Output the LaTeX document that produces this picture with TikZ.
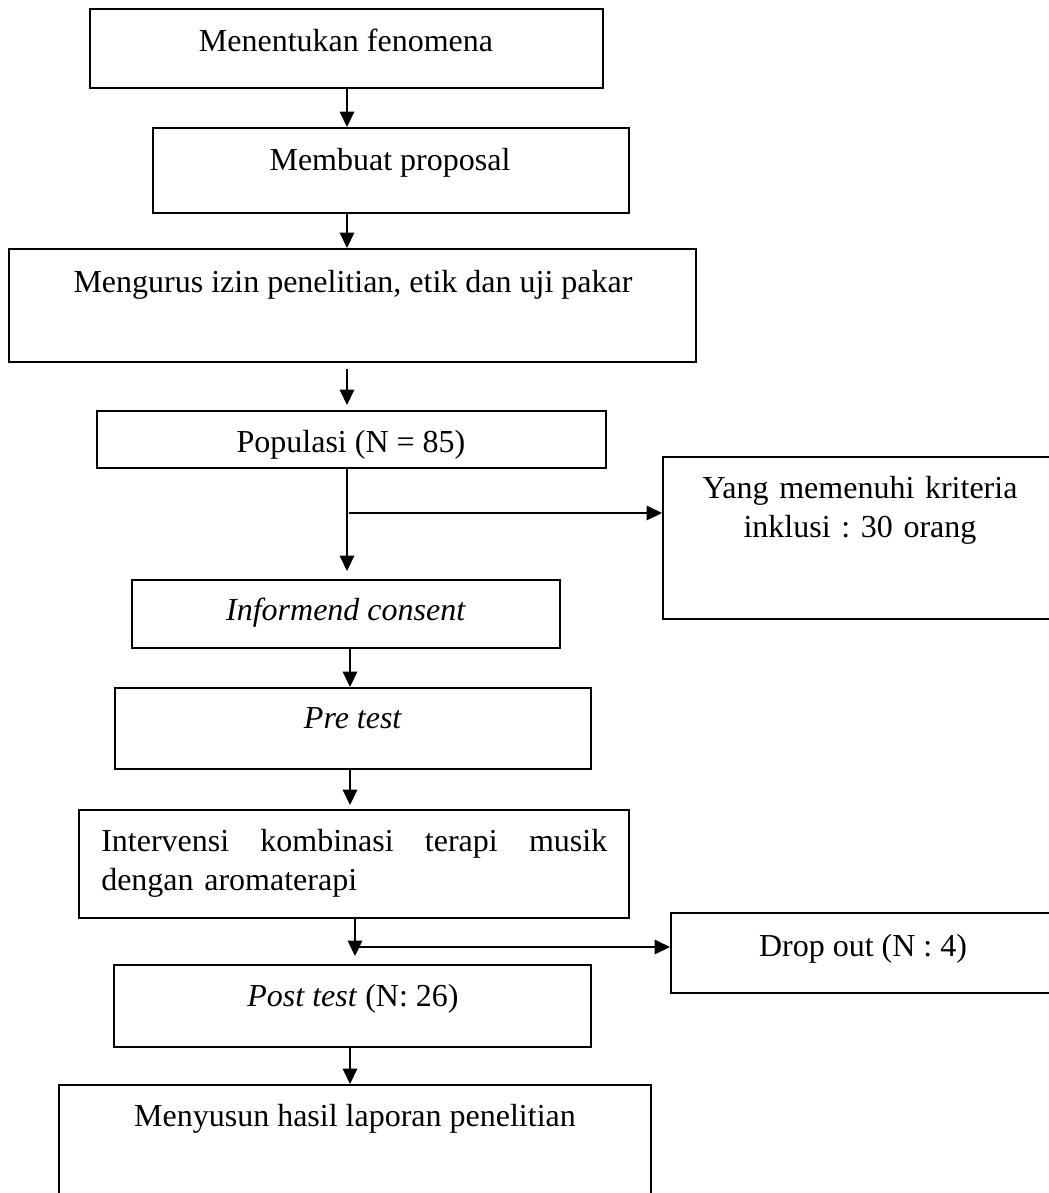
\documentclass[tikz,border=0pt]{standalone}
\usepackage{fontspec}
\setmainfont{Liberation Serif}
\usetikzlibrary{arrows.meta}
\begin{document}
\frenchspacing
\begin{tikzpicture}[x=0.75pt,y=-0.75pt,
  box/.style={draw, line width=1.6pt, inner sep=0pt},
  txt/.style={inner sep=0pt, font=\fontsize{24}{29.5}\selectfont\frenchspacing},
  arr/.style={line width=0.85pt, -{Triangle[length=11.5pt,width=11pt]}}]
\useasboundingbox (0,0) rectangle (1049,1193);
% boxes
\node[box, minimum width=384.75pt, minimum height=59.25pt] (b1) at (346.5,48.5) {};
\node[box, minimum width=357pt, minimum height=63.75pt] (b2) at (391,170.5) {};
\node[box, minimum width=515.25pt, minimum height=84.75pt] (b3) at (352.5,305.5) {};
\node[box, minimum width=381.75pt, minimum height=42.75pt] (b4) at (351.5,439.5) {};
\node[box, minimum width=295.5pt, minimum height=121.5pt] (b5) at (860,538) {};
\node[box, minimum width=321pt, minimum height=51pt] (b6) at (346,614) {};
\node[box, minimum width=357pt, minimum height=60.75pt] (b7) at (353,728.5) {};
\node[box, minimum width=412.5pt, minimum height=81pt] (b8) at (354,864) {};
\node[box, minimum width=288pt, minimum height=60pt] (b9) at (863,953) {};
\node[box, minimum width=357.75pt, minimum height=61.5pt] (b10) at (352.5,1006) {};
\node[box, minimum width=444pt, minimum height=90pt] (b11) at (355,1145) {};
% texts
\node[txt, anchor=base] (t1) at (346,51) {Menentukan fenomena};
\node[txt, anchor=base] (t2) at (390,170) {Membuat proposal};
\node[txt, anchor=base] (t3) at (353,292) {Mengurus izin penelitian, etik dan uji pakar};
\node[txt, anchor=base] (t4) at (351,452) {Populasi (N = 85)};
\node[txt, anchor=base, text width=300pt, align=center] (t5) at (860,498) {Yang memenuhi kriteria\\inklusi : 30 orang};
\node[txt, anchor=base] (t6) at (346,620) {\textit{Informend consent}};
\node[txt, anchor=base] (t7) at (353,728) {\textit{Pre test}};
\node[txt, anchor=base west, text width=379.5pt, align=left] (t8) at (101,851)
  {\hbox to 379.5pt{Intervensi\hfill kombinasi\hfill terapi\hfill musik}\\dengan aromaterapi};
\node[txt, anchor=base] (t9) at (863,956) {Drop out (N : 4)};
\node[txt, anchor=base] (t10) at (353,1006) {\textit{Post test} (N: 26)};
\node[txt, anchor=base] (t11) at (355,1126) {Menyusun hasil laporan penelitian};
% connector columns
\coordinate (colA) at (347,0);
\coordinate (colB) at (350,0);
\coordinate (colC) at (355,0);
\coordinate (br1) at (349,513);
\coordinate (br2) at (355,947);
% connectors
\draw[arr] (colA |- b1.south) -- (colA |- b2.north);
\draw[arr] (colA |- b2.south) -- (colA |- b3.north);
\draw[arr, shorten <=4.5pt, shorten >=3.75pt] (colA |- b3.south) -- (colA |- b4.north);
\draw[arr, shorten >=6pt] (colA |- b4.south) -- (colA |- b6.north);
\draw[arr] (br1) -- (br1 -| b5.west);
\draw[arr] (colB |- b6.south) -- (colB |- b7.north);
\draw[arr, shorten >=3pt] (colB |- b7.south) -- (colB |- b8.north);
\draw[arr, shorten >=6pt] (colC |- b8.south) -- (colC |- b10.north);
\draw[arr] (br2) -- (br2 -| b9.west);
\draw[arr] (colB |- b10.south) -- (colB |- b11.north);
\end{tikzpicture}
\end{document}
